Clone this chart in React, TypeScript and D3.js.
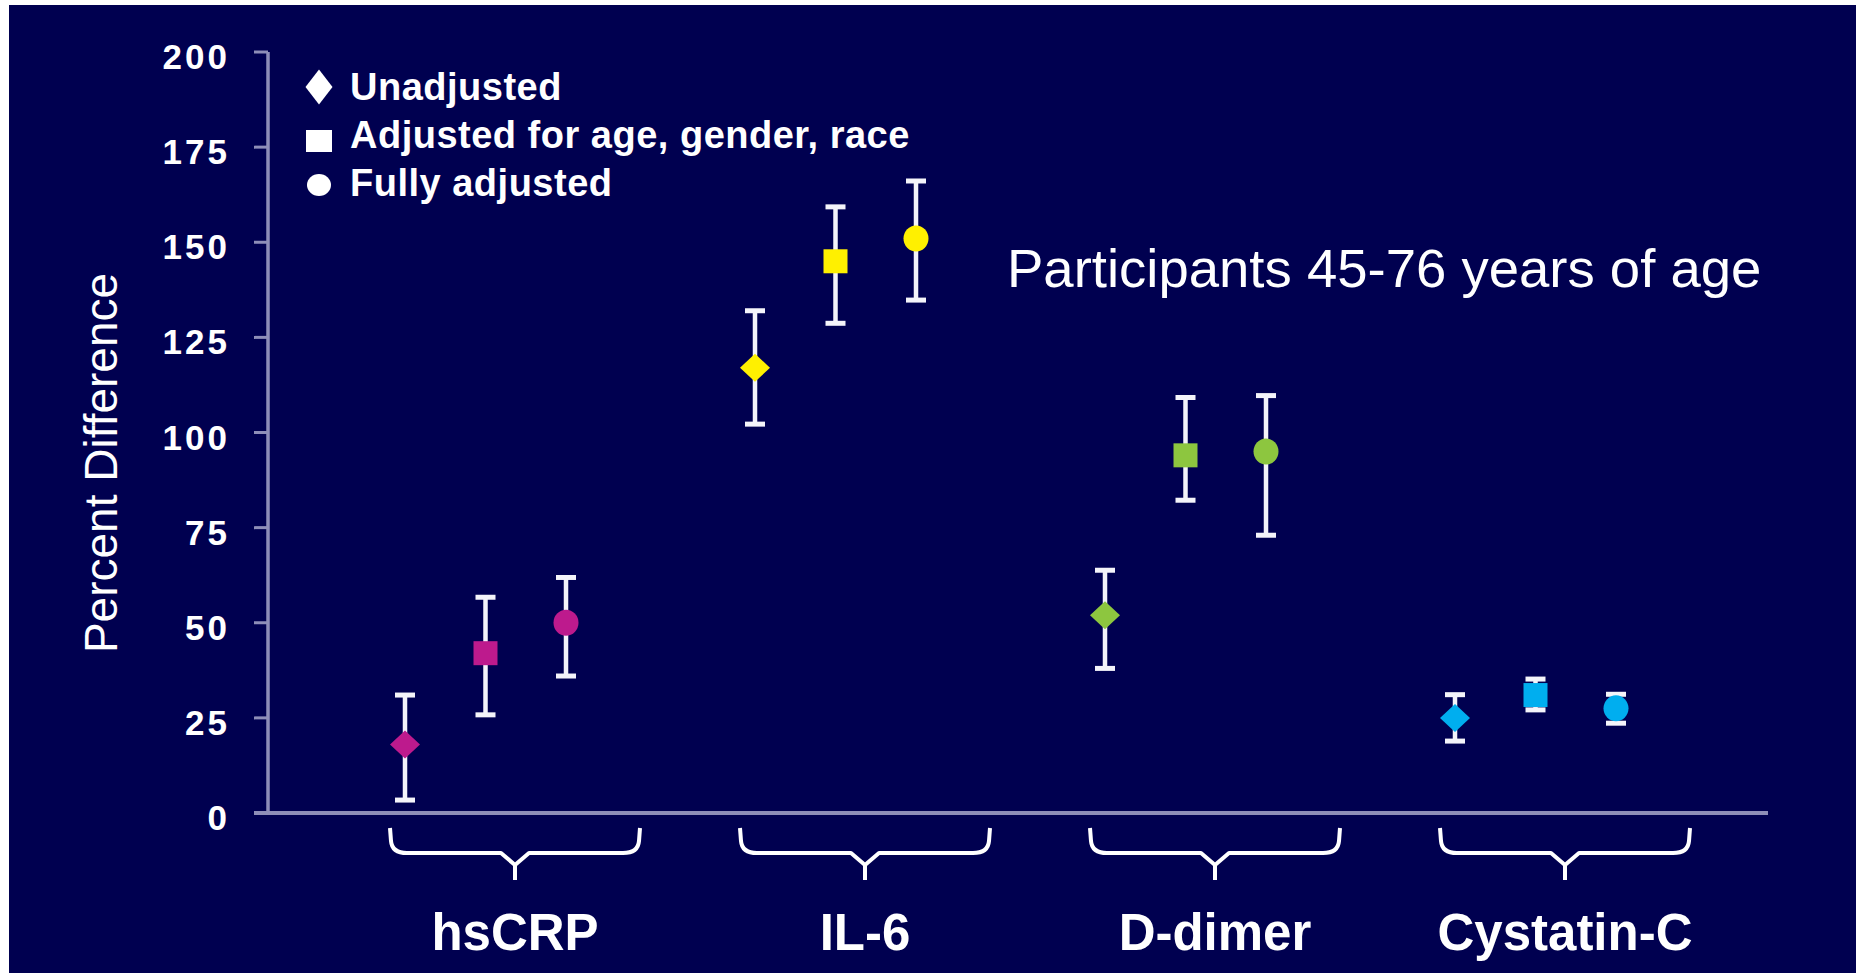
import React from "react";
import * as d3 from "d3";

// Biomarker groups shown along the x axis
const categories = ["hsCRP", "IL-6", "D-dimer", "Cystatin-C"];
const categoryColors = ["#bd1a8d", "#fff000", "#8dc63f", "#00aeef"];

// Model adjustment levels (one marker per level inside each group)
const seriesNames = ["Unadjusted", "Adjusted for age, gender, race", "Fully adjusted"];
const seriesShapes = ["diamond", "square", "circle"];

// Percent difference estimates and confidence limits, [category][series]
const estimates = [
  [18, 42, 50],
  [117, 145, 151],
  [52, 94, 95],
  [25, 31, 27.5],
];
const lowerLimits = [
  [3.4, 25.8, 36],
  [102.2, 128.7, 134.8],
  [38, 82.2, 73],
  [18.9, 27.1, 23.6],
];
const upperLimits = [
  [31, 56.7, 61.9],
  [132, 159.3, 166.1],
  [63.8, 109.2, 109.7],
  [31.1, 35.2, 31.2],
];

const yTicks = [0, 25, 50, 75, 100, 125, 150, 175, 200];
const yTitle = "Percent Difference";
const subtitle = "Participants 45-76 years of age";

const W = 1856;
const H = 973;
const NAVY = "#000050";
const AXIS = "#8e8eb8";
const FONT = "'Liberation Sans', Arial, Helvetica, sans-serif";

const y = d3.scaleLinear().domain([0, 200]).range([813, 52]);
const x = d3.scaleBand().domain(categories).range([340, 1740]);
const inner = d3.scalePoint().domain(seriesNames).range([-110, 51]);

function markerPath(shape: string, w: number, h: number): string {
  const hw = w / 2;
  const hh = h / 2;
  if (shape === "diamond") return `M0,${-hh}L${hw},0L0,${hh}L${-hw},0Z`;
  if (shape === "square") return `M${-hw},${-hh}H${hw}V${hh}H${-hw}Z`;
  return `M${-hw},0A${hw},${hh} 0 1,0 ${hw},0A${hw},${hh} 0 1,0 ${-hw},0Z`;
}

const markerSize: Record<string, [number, number]> = {
  diamond: [30, 28],
  square: [24, 24],
  circle: [25, 26],
};
const legendSize: Record<string, [number, number]> = {
  diamond: [27, 35],
  square: [26, 22],
  circle: [24, 22],
};

function bracePath(l: number, r: number, top: number, h: number, tip: number): string {
  const c = (l + r) / 2;
  return [
    `M${l},${top}`,
    `L${l + 1},${h - 12}`,
    `Q${l + 2},${h} ${l + 17},${h}`,
    `L${c - 14},${h}`,
    `L${c},${h + 12}`,
    `L${c + 14},${h}`,
    `L${r - 17},${h}`,
    `Q${r - 2},${h} ${r - 1},${h - 12}`,
    `L${r},${top}`,
    `M${c},${h + 12}`,
    `L${c},${tip}`,
  ].join(" ");
}

export default function App() {
  const xAxisLeft = 254;
  const xAxisRight = 1768;
  const yAxisX = 268;

  return (
    <svg
      width={W}
      height={H}
      viewBox={`0 0 ${W} ${H}`}
      style={{ position: "absolute", left: 0, top: 0, display: "block" }}
    >
      <rect x={0} y={0} width={W} height={H} fill="#ffffff" />
      <rect x={9} y={5} width={W - 9} height={H - 5} fill={NAVY} />

      {/* y axis */}
      <line x1={yAxisX} x2={yAxisX} y1={y(200)} y2={y(0)} stroke={AXIS} strokeWidth={3.5} />
      {yTicks.map((t) => (
        <g key={t}>
          <line x1={xAxisLeft} x2={yAxisX} y1={y(t)} y2={y(t)} stroke={AXIS} strokeWidth={3} />
          <text
            x={230}
            y={y(t) + 17}
            textAnchor="end"
            fill="#ffffff"
            fontFamily={FONT}
            fontWeight="bold"
            fontSize={35}
            letterSpacing={3}
          >
            {t}
          </text>
        </g>
      ))}

      {/* x axis */}
      <line x1={xAxisLeft} x2={xAxisRight} y1={y(0)} y2={y(0)} stroke={AXIS} strokeWidth={4} />

      <text
        transform={`translate(117,${463}) rotate(-90)`}
        textAnchor="middle"
        fill="#ffffff"
        fontFamily={FONT}
        fontSize={46}
      >
        {yTitle}
      </text>

      {/* category braces and labels */}
      {categories.map((c) => {
        const cx = (x(c) as number) + x.bandwidth() / 2;
        return (
          <g key={c}>
            <path
              d={bracePath(cx - 125, cx + 125, 828, 853, 880)}
              fill="none"
              stroke="#ffffff"
              strokeWidth={4}
              strokeLinejoin="round"
            />
            <text
              x={cx}
              y={950}
              textAnchor="middle"
              fill="#ffffff"
              fontFamily={FONT}
              fontWeight="bold"
              fontSize={51}
            >
              {c}
            </text>
          </g>
        );
      })}

      {/* error bars */}
      {categories.map((c, ci) =>
        seriesNames.map((s, si) => {
          const px = (x(c) as number) + x.bandwidth() / 2 + (inner(s) as number);
          const lo = y(lowerLimits[ci][si]);
          const hi = y(upperLimits[ci][si]);
          return (
            <g key={`e-${c}-${s}`}>
              <line x1={px} x2={px} y1={hi} y2={lo} stroke="#f4f4fa" strokeWidth={4.5} />
              <line x1={px - 10} x2={px + 10} y1={hi} y2={hi} stroke="#f4f4fa" strokeWidth={5} />
              <line x1={px - 10} x2={px + 10} y1={lo} y2={lo} stroke="#f4f4fa" strokeWidth={5} />
            </g>
          );
        })
      )}

      {/* estimate markers */}
      {categories.map((c, ci) =>
        seriesNames.map((s, si) => {
          const px = (x(c) as number) + x.bandwidth() / 2 + (inner(s) as number);
          const shape = seriesShapes[si];
          const [w, h] = markerSize[shape];
          return (
            <path
              key={`m-${c}-${s}`}
              transform={`translate(${px},${y(estimates[ci][si])})`}
              d={markerPath(shape, w, h)}
              fill={categoryColors[ci]}
            />
          );
        })
      )}

      {/* legend */}
      {seriesNames.map((s, i) => {
        const rowY = 87 + i * 48;
        const shape = seriesShapes[i];
        const [w, h] = legendSize[shape];
        return (
          <g key={`l-${s}`}>
            <path
              transform={`translate(319,${rowY + (i === 0 ? 0 : 6 - 4 * (i - 1))})`}
              d={markerPath(shape, w, h)}
              fill="#ffffff"
            />
            <text
              x={350}
              y={rowY + 13}
              fill="#ffffff"
              fontFamily={FONT}
              fontWeight="bold"
              fontSize={38}
              letterSpacing={0.5}
            >
              {s}
            </text>
          </g>
        );
      })}

      <text x={1007} y={287} fill="#ffffff" fontFamily={FONT} fontSize={54.5}>
        {subtitle}
      </text>
    </svg>
  );
}
